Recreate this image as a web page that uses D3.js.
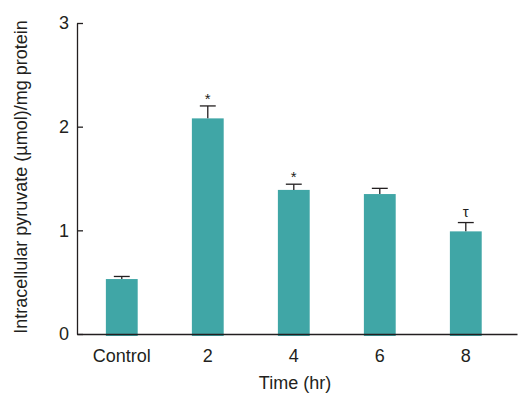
<!DOCTYPE html>
<html>
<head>
<meta charset="utf-8">
<script src="https://cdn.jsdelivr.net/npm/d3@7"></script>
<style>
  body { margin: 0; background: #fff; }
  svg text { font-family: "Liberation Sans", Arial, sans-serif; fill: #231f20; }
</style>
</head>
<body>
<svg></svg>
<script>
const w = 523;
const h = 398;

// data
const categories = ["Control", "2", "4", "6", "8"];
const values = [0.53, 2.08, 1.39, 1.35, 0.99];
const errors = [0.025, 0.12, 0.055, 0.055, 0.085];
const marks = ["", "*", "*", "", "τ"];
const yTicks = [0, 1, 2, 3];

const plotLeft = 77;
const plotRight = 517;
const plotTop = 23;
const plotBottom = 334;
const barColor = "#40a6a6";
const ink = "#231f20";

const svg = d3.select("svg").attr("width", w).attr("height", h);

const x = d3
  .scaleBand()
  .domain(categories)
  .range([plotLeft, plotRight])
  .paddingInner(0.63)
  .paddingOuter(0.373)
  .align(0.45);

const y = d3.scaleLinear().domain([0, 3]).range([plotBottom, plotTop]);

const data = categories.map((c, i) => ({
  cat: c,
  value: values[i],
  err: errors[i],
  mark: marks[i],
}));

/** bars */
svg
  .selectAll("rect.bar")
  .data(data)
  .enter()
  .append("rect")
  .attr("class", "bar")
  .attr("x", (d) => x(d.cat))
  .attr("y", (d) => y(d.value))
  .attr("width", x.bandwidth())
  .attr("height", (d) => y(0) - y(d.value) + 2)
  .attr("fill", barColor);

/** error bars (upper only) */
const capW = x.bandwidth() / 2;
const eb = svg.selectAll("g.err").data(data).enter().append("g").attr("class", "err");
eb.append("line")
  .attr("x1", (d) => x(d.cat) + x.bandwidth() / 2)
  .attr("x2", (d) => x(d.cat) + x.bandwidth() / 2)
  .attr("y1", (d) => y(d.value))
  .attr("y2", (d) => y(d.value + d.err))
  .attr("stroke", ink)
  .attr("stroke-width", 1.3);
eb.append("line")
  .attr("x1", (d) => x(d.cat) + x.bandwidth() / 2 - capW / 2)
  .attr("x2", (d) => x(d.cat) + x.bandwidth() / 2 + capW / 2)
  .attr("y1", (d) => y(d.value + d.err))
  .attr("y2", (d) => y(d.value + d.err))
  .attr("stroke", ink)
  .attr("stroke-width", 1.3);

/** significance marks */
svg
  .selectAll("text.mark")
  .data(data.filter((d) => d.mark))
  .enter()
  .append("text")
  .attr("class", "mark")
  .attr("x", (d) => x(d.cat) + x.bandwidth() / 2)
  .attr("y", (d) => y(d.value + d.err) - (d.mark === "*" ? 2 : 6))
  .attr("text-anchor", "middle")
  .style("font-size", (d) => (d.mark === "*" ? "15px" : "15px"))
  .text((d) => d.mark);

/** y axis */
const yAxis = svg
  .append("g")
  .attr("transform", `translate(${plotLeft},0)`)
  .call(
    d3.axisLeft(y).tickValues(yTicks).tickFormat(d3.format("d"))
      .tickSizeInner(-6).tickSizeOuter(0).tickPadding(8)
  );
yAxis.selectAll("text").style("font-size", "18px").attr("fill", ink);

/** x axis */
const xAxis = svg
  .append("g")
  .attr("transform", `translate(0,${plotBottom})`)
  .call(d3.axisBottom(x).tickSize(0).tickPadding(15));
xAxis.selectAll("text").style("font-size", "18px").attr("fill", ink);

svg.selectAll(".domain, .tick line").attr("stroke", ink).attr("stroke-width", 1.3);

/** axis titles */
svg
  .append("text")
  .attr("transform", "translate(27,177) rotate(-90)")
  .attr("text-anchor", "middle")
  .style("font-size", "18px")
  .text("Intracellular pyruvate (µmol)/mg protein");

svg
  .append("text")
  .attr("x", 295)
  .attr("y", 389)
  .attr("text-anchor", "middle")
  .style("font-size", "18px")
  .text("Time (hr)");
</script>
</body>
</html>
